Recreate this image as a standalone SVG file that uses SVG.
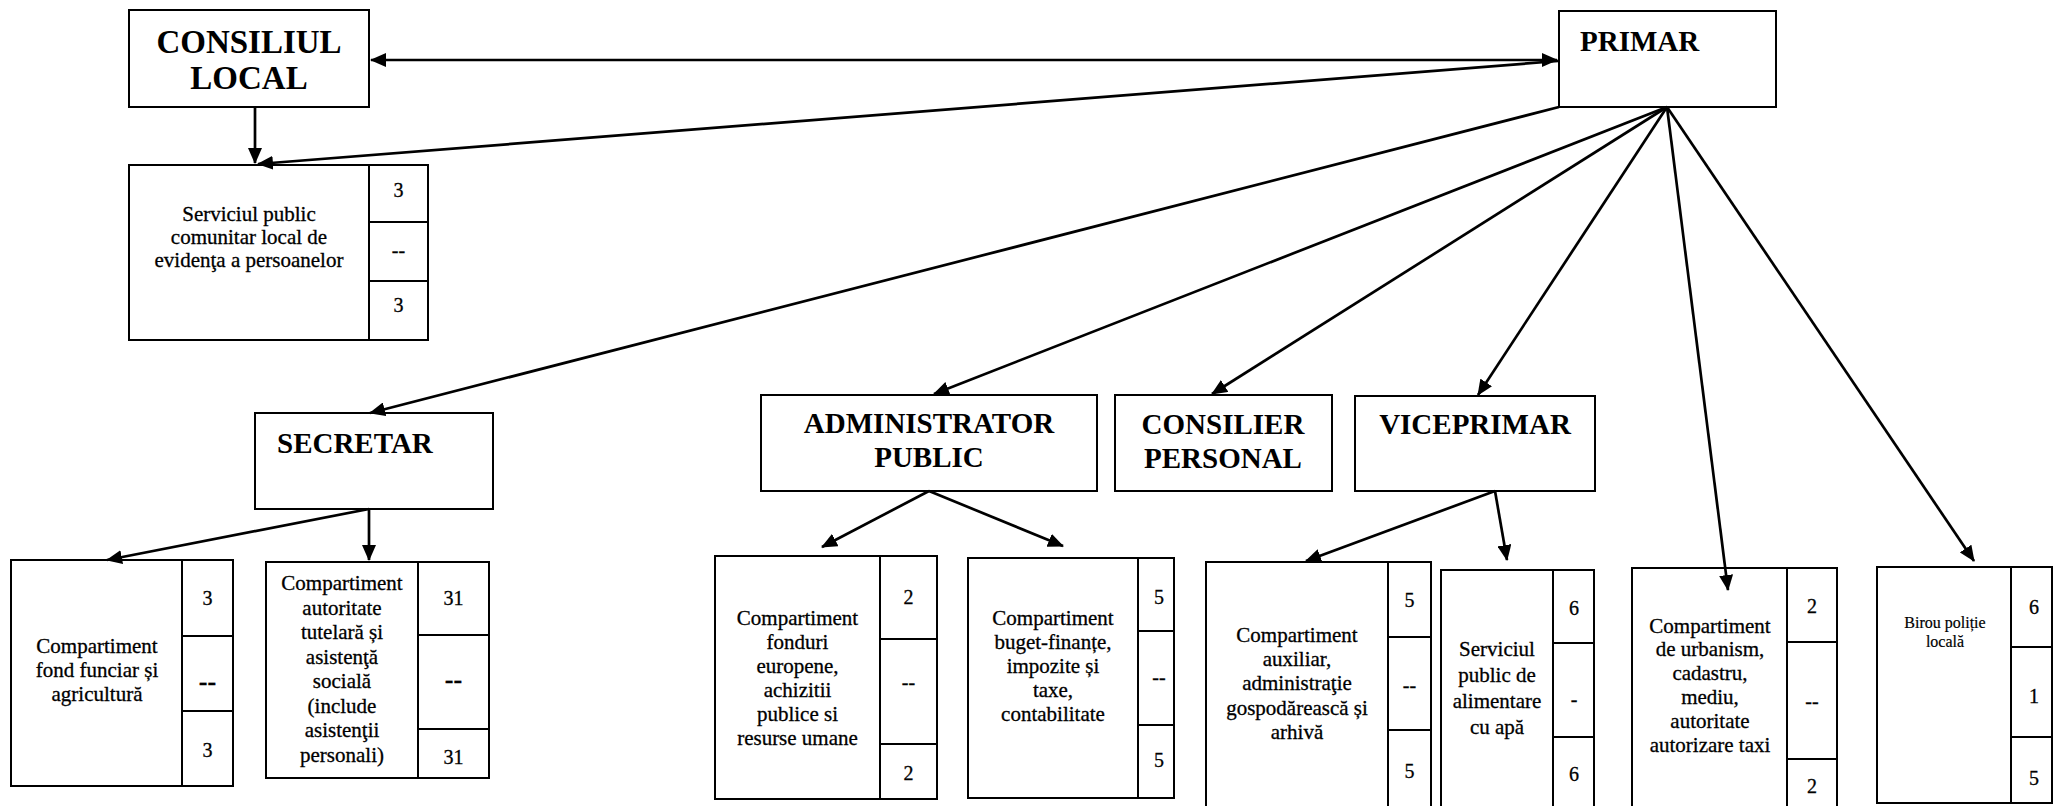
<svg xmlns="http://www.w3.org/2000/svg" width="2053" height="806" viewBox="0 0 2053 806" font-family="'Liberation Serif', 'Times New Roman', serif">
<style>
.bx{fill:#fff;stroke:#000;stroke-width:2}
.dv{stroke:#000;stroke-width:2}
text{font-family:'Liberation Serif', 'Times New Roman', serif;fill:#000}
.h{font-weight:bold;font-size:29px}
.hl{font-size:33px}
.m{text-anchor:middle}
.t{font-size:21px;text-anchor:middle;stroke:#000;stroke-width:0.3}
.ts{font-size:16px;stroke-width:0.2}
.n{font-size:20px;text-anchor:middle;stroke:#000;stroke-width:0.3}
.nb{font-weight:bold;font-size:26px}
.c{stroke:#000;stroke-width:2.7;fill:none;marker-end:url(#ah)}
.bi{marker-start:url(#ah)}
</style>
<defs>
<marker id="ah" markerUnits="userSpaceOnUse" markerWidth="16" markerHeight="14" refX="15" refY="7" orient="auto-start-reverse">
<path d="M0,0 L16,7 L0,14 z" fill="#000"/>
</marker>
</defs>
<rect width="2053" height="806" fill="#fff"/>

<g id="consiliul-local">
<rect class="bx" x="129" y="10" width="240" height="97"/>
<text class="h hl m" x="249" y="53">CONSILIUL</text>
<text class="h hl m" x="249" y="89">LOCAL</text>
</g>

<g id="primar">
<rect class="bx" x="1559" y="11" width="217" height="96"/>
<text class="h" x="1580" y="51">PRIMAR</text>
</g>

<g id="serviciul-evidenta">
<rect class="bx" x="129" y="165" width="240" height="175"/>
<rect class="bx" x="369" y="165" width="59" height="175"/>
<line class="dv" x1="369" y1="222" x2="428" y2="222"/>
<line class="dv" x1="369" y1="281" x2="428" y2="281"/>
<text class="t" x="249" y="221">Serviciul public</text>
<text class="t" x="249" y="244">comunitar local de</text>
<text class="t" x="249" y="267">evidenţa a persoanelor</text>
<text class="n" x="398.5" y="197">3</text>
<text class="n" x="398.5" y="257">--</text>
<text class="n" x="398.5" y="312">3</text>
</g>

<g id="secretar">
<rect class="bx" x="255" y="413" width="238" height="96"/>
<text class="h" x="277" y="453">SECRETAR</text>
</g>

<g id="administrator-public">
<rect class="bx" x="761" y="395" width="336" height="96"/>
<text class="h m" x="929" y="433">ADMINISTRATOR</text>
<text class="h m" x="929" y="467">PUBLIC</text>
</g>

<g id="consilier-personal">
<rect class="bx" x="1115" y="395" width="217" height="96"/>
<text class="h m" x="1223" y="434">CONSILIER</text>
<text class="h m" x="1223" y="468">PERSONAL</text>
</g>

<g id="viceprimar">
<rect class="bx" x="1355" y="396" width="240" height="95"/>
<text class="h m" x="1475" y="434">VICEPRIMAR</text>
</g>

<g id="fond-funciar">
<rect class="bx" x="11" y="560" width="171" height="226"/>
<rect class="bx" x="182" y="560" width="51" height="226"/>
<line class="dv" x1="182" y1="636" x2="233" y2="636"/>
<line class="dv" x1="182" y1="711" x2="233" y2="711"/>
<text class="t" x="97" y="653">Compartiment</text>
<text class="t" x="97" y="677">fond funciar și</text>
<text class="t" x="97" y="701">agricultură</text>
<text class="n" x="207.5" y="605">3</text>
<text class="n nb" x="207.5" y="690">--</text>
<text class="n" x="207.5" y="757">3</text>
</g>

<g id="autoritate-tutelara">
<rect class="bx" x="266" y="562" width="152" height="216"/>
<rect class="bx" x="418" y="562" width="71" height="216"/>
<line class="dv" x1="418" y1="635" x2="489" y2="635"/>
<line class="dv" x1="418" y1="729" x2="489" y2="729"/>
<text class="t" x="342" y="590">Compartiment</text>
<text class="t" x="342" y="615">autoritate</text>
<text class="t" x="342" y="639">tutelară și</text>
<text class="t" x="342" y="664">asistenţă</text>
<text class="t" x="342" y="688">socială</text>
<text class="t" x="342" y="713">(include</text>
<text class="t" x="342" y="737">asistenţii</text>
<text class="t" x="342" y="762">personali)</text>
<text class="n" x="453.5" y="605">31</text>
<text class="n nb" x="453.5" y="688">--</text>
<text class="n" x="453.5" y="764">31</text>
</g>

<g id="fonduri-europene">
<rect class="bx" x="715" y="556" width="165" height="243"/>
<rect class="bx" x="880" y="556" width="57" height="243"/>
<line class="dv" x1="880" y1="639" x2="937" y2="639"/>
<line class="dv" x1="880" y1="744" x2="937" y2="744"/>
<text class="t" x="797.5" y="625">Compartiment</text>
<text class="t" x="797.5" y="649">fonduri</text>
<text class="t" x="797.5" y="673">europene,</text>
<text class="t" x="797.5" y="697">achizitii</text>
<text class="t" x="797.5" y="721">publice si</text>
<text class="t" x="797.5" y="745">resurse umane</text>
<text class="n" x="908.5" y="604">2</text>
<text class="n" x="908.5" y="689">--</text>
<text class="n" x="908.5" y="780">2</text>
</g>

<g id="buget-finante">
<rect class="bx" x="968" y="558" width="170" height="240"/>
<rect class="bx" x="1138" y="558" width="36" height="240"/>
<line class="dv" x1="1138" y1="631" x2="1174" y2="631"/>
<line class="dv" x1="1138" y1="725" x2="1174" y2="725"/>
<text class="t" x="1053" y="625">Compartiment</text>
<text class="t" x="1053" y="649">buget-finanțe,</text>
<text class="t" x="1053" y="673">impozite și</text>
<text class="t" x="1053" y="697">taxe,</text>
<text class="t" x="1053" y="721">contabilitate</text>
<text class="n" x="1159" y="604">5</text>
<text class="n" x="1159" y="684">--</text>
<text class="n" x="1159" y="767">5</text>
</g>

<g id="compartiment-auxiliar">
<rect class="bx" x="1206" y="562" width="182" height="260"/>
<rect class="bx" x="1388" y="562" width="43" height="260"/>
<line class="dv" x1="1388" y1="637" x2="1431" y2="637"/>
<line class="dv" x1="1388" y1="730" x2="1431" y2="730"/>
<text class="t" x="1297" y="642">Compartiment</text>
<text class="t" x="1297" y="666">auxiliar,</text>
<text class="t" x="1297" y="690">administraţie</text>
<text class="t" x="1297" y="715">gospodărească și</text>
<text class="t" x="1297" y="739">arhivă</text>
<text class="n" x="1409.5" y="607">5</text>
<text class="n" x="1409.5" y="692">--</text>
<text class="n" x="1409.5" y="778">5</text>
</g>

<g id="serviciul-apa">
<rect class="bx" x="1441" y="570" width="112" height="260"/>
<rect class="bx" x="1553" y="570" width="41" height="260"/>
<line class="dv" x1="1553" y1="643" x2="1594" y2="643"/>
<line class="dv" x1="1553" y1="737" x2="1594" y2="737"/>
<text class="t" x="1497" y="656">Serviciul</text>
<text class="t" x="1497" y="682">public de</text>
<text class="t" x="1497" y="708">alimentare</text>
<text class="t" x="1497" y="734">cu apă</text>
<text class="n" x="1574" y="615">6</text>
<text class="n" x="1574" y="706">-</text>
<text class="n" x="1574" y="781">6</text>
</g>

<g id="urbanism">
<rect class="bx" x="1632" y="568" width="155" height="260"/>
<rect class="bx" x="1787" y="568" width="50" height="260"/>
<line class="dv" x1="1787" y1="642" x2="1837" y2="642"/>
<line class="dv" x1="1787" y1="759" x2="1837" y2="759"/>
<text class="t" x="1710" y="633">Compartiment</text>
<text class="t" x="1710" y="656">de urbanism,</text>
<text class="t" x="1710" y="680">cadastru,</text>
<text class="t" x="1710" y="704">mediu,</text>
<text class="t" x="1710" y="728">autoritate</text>
<text class="t" x="1710" y="752">autorizare taxi</text>
<text class="n" x="1812" y="613">2</text>
<text class="n" x="1812" y="708">--</text>
<text class="n" x="1812" y="793">2</text>
</g>

<g id="birou-politie">
<rect class="bx" x="1877" y="567" width="134" height="236"/>
<rect class="bx" x="2011" y="567" width="41" height="236"/>
<line class="dv" x1="2011" y1="647" x2="2052" y2="647"/>
<line class="dv" x1="2011" y1="737" x2="2052" y2="737"/>
<text class="t ts" x="1945" y="628">Birou poliție</text>
<text class="t ts" x="1945" y="647">locală</text>
<text class="n" x="2034" y="614">6</text>
<text class="n" x="2034" y="703">1</text>
<text class="n" x="2034" y="785">5</text>
</g>

<g id="connectors">
<line class="c bi" x1="371" y1="60" x2="1557" y2="60"/>
<line class="c" x1="255" y1="107" x2="255" y2="163"/>
<line class="c" x1="1558" y1="61" x2="258" y2="164"/>
<line class="c" x1="1559" y1="107" x2="370" y2="413"/>
<line class="c" x1="1667" y1="107" x2="934" y2="394"/>
<line class="c" x1="1667" y1="107" x2="1212" y2="394"/>
<line class="c" x1="1667" y1="107" x2="1478" y2="395"/>
<line class="c" x1="1667" y1="107" x2="1728" y2="590"/>
<line class="c" x1="1667" y1="107" x2="1974" y2="561"/>
<line class="c" x1="369" y1="509" x2="107" y2="560"/>
<line class="c" x1="369" y1="509" x2="369" y2="560"/>
<line class="c" x1="929" y1="491" x2="822" y2="547"/>
<line class="c" x1="929" y1="491" x2="1063" y2="546"/>
<line class="c" x1="1495" y1="491" x2="1306" y2="561"/>
<line class="c" x1="1495" y1="491" x2="1507" y2="560"/>
</g>
</svg>
